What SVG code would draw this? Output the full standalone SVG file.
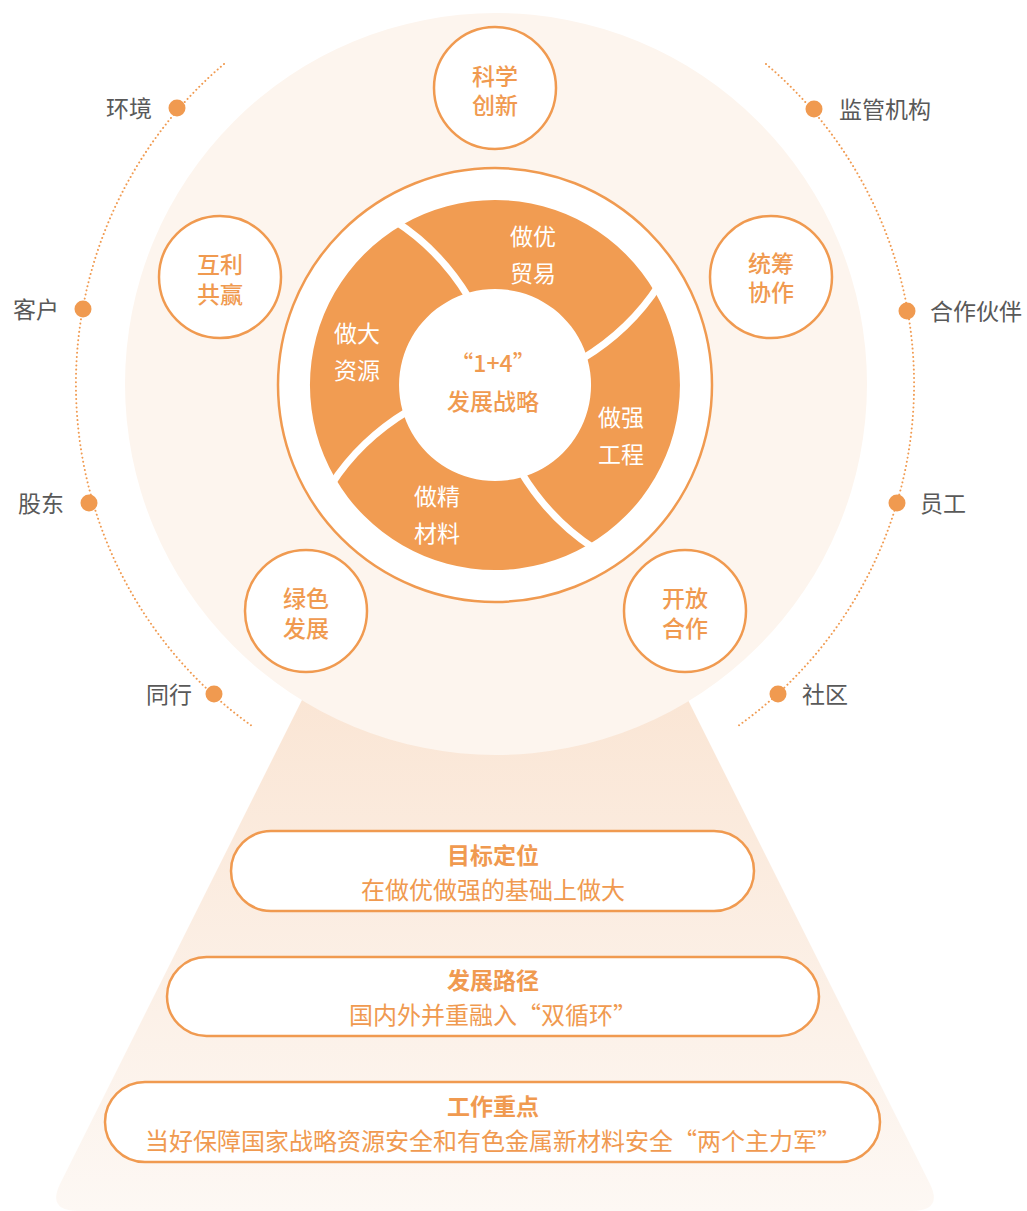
<svg xmlns="http://www.w3.org/2000/svg" width="1027" height="1211" viewBox="0 0 1027 1211">
<defs>
<linearGradient id="trap" x1="0" y1="0" x2="0" y2="1">
<stop offset="0" stop-color="#fae4d2"/>
<stop offset="1" stop-color="#fdf8f4"/>
</linearGradient>
<style>
text{font-family:"Noto Sans CJK SC","Noto Sans",sans-serif;dominant-baseline:central;text-anchor:middle}
.g{fill:#595959;font-size:23px}
.gl{text-anchor:end}
.gr{text-anchor:start}
.sc{fill:#ffffff;stroke:#f09a50;stroke-width:2.5}
.sct{fill:#f09a50;font-size:23px;font-weight:500}
.seg{fill:#ffffff;font-size:23px}
.pill{fill:#ffffff;stroke:#f09a50;stroke-width:2.5}
.pt{fill:#f09a50;font-size:23px;font-weight:700}
.ps{fill:#f09a50;font-size:24px}
.dot{fill:#f09a50}
.arc{fill:none;stroke:#f09a50;stroke-width:2;stroke-dasharray:0.01 4.2;stroke-linecap:round}
.div{fill:none;stroke:#ffffff;stroke-width:7}
</style>
</defs>
<rect width="1027" height="1211" fill="#ffffff"/>
<path id="trapezoid" d="M327 650 L663 650 L930 1184 Q943 1211 912 1211 L78 1211 Q47 1211 60 1184 Z" fill="url(#trap)"/>
<circle id="halo" cx="496" cy="384" r="371" fill="#fdf5ee"/>

<g id="connectors">
<path class="arc" d="M224 64 A420 420 0 0 0 252 726"/>
<path class="arc" d="M766 64 A420 420 0 0 1 738 726"/>
</g>

<g id="stakeholders">
<g id="n-huanjing"><circle class="dot" cx="177" cy="108" r="8.5"/><text class="g gl" x="152" y="107">环境</text></g>
<g id="n-kehu"><circle class="dot" cx="83" cy="309" r="8.5"/><text class="g gl" x="59" y="308">客户</text></g>
<g id="n-gudong"><circle class="dot" cx="89" cy="503" r="8.5"/><text class="g gl" x="64" y="502">股东</text></g>
<g id="n-tonghang"><circle class="dot" cx="214" cy="694" r="8.5"/><text class="g gl" x="192" y="693">同行</text></g>
<g id="n-jianguan"><circle class="dot" cx="814" cy="109" r="8.5"/><text class="g gr" x="839" y="108">监管机构</text></g>
<g id="n-hezuo"><circle class="dot" cx="907" cy="311" r="8.5"/><text class="g gr" x="930" y="310">合作伙伴</text></g>
<g id="n-yuangong"><circle class="dot" cx="897" cy="503" r="8.5"/><text class="g gr" x="920" y="502">员工</text></g>
<g id="n-shequ"><circle class="dot" cx="778" cy="694" r="8.5"/><text class="g gr" x="802" y="693">社区</text></g>
</g>

<g id="core">
<circle cx="495" cy="385" r="217" fill="#ffffff" stroke="#f09a50" stroke-width="2.5"/>
<path d="M495 200 A185 185 0 1 1 494.9 200 Z M495 289 A96 96 0 1 0 495.1 289 Z" fill="#f19c52" fill-rule="evenodd"/>
<path class="div" d="M469 298 Q440 250 395 221"/>
<path class="div" d="M582 359 Q630 330 659 285"/>
<path class="div" d="M521 472 Q550 520 595 549"/>
<path class="div" d="M408 411 Q360 440 331 485"/>
<circle cx="495" cy="385" r="95" fill="#ffffff"/>
<text class="sct" x="493" y="362">“1+4”<tspan x="493" dy="38">发展战略</tspan></text>
</g>

<g id="seg-maoyi"><text class="seg" x="533" y="235">做优<tspan x="533" dy="37">贸易</tspan></text></g>
<g id="seg-ziyuan"><text class="seg" x="357" y="332">做大<tspan x="357" dy="37">资源</tspan></text></g>
<g id="seg-gongcheng"><text class="seg" x="621" y="416">做强<tspan x="621" dy="37">工程</tspan></text></g>
<g id="seg-cailiao"><text class="seg" x="437" y="495">做精<tspan x="437" dy="37">材料</tspan></text></g>

<g id="c-kexue"><circle class="sc" cx="495" cy="88" r="61"/><text class="sct" x="495" y="75">科学<tspan x="495" dy="29">创新</tspan></text></g>
<g id="c-huli"><circle class="sc" cx="220" cy="277" r="61"/><text class="sct" x="220" y="263">互利<tspan x="220" dy="30">共赢</tspan></text></g>
<g id="c-tongchou"><circle class="sc" cx="771" cy="277" r="61"/><text class="sct" x="771" y="262">统筹<tspan x="771" dy="29">协作</tspan></text></g>
<g id="c-lvse"><circle class="sc" cx="306" cy="611" r="61"/><text class="sct" x="306" y="597">绿色<tspan x="306" dy="30">发展</tspan></text></g>
<g id="c-kaifang"><circle class="sc" cx="685" cy="611" r="61"/><text class="sct" x="685" y="597">开放<tspan x="685" dy="30">合作</tspan></text></g>

<g id="p-mubiao"><rect class="pill" x="231" y="831" width="523" height="80" rx="40"/><text class="pt" x="493" y="854">目标定位</text><text class="ps" x="493" y="888">在做优做强的基础上做大</text></g>
<g id="p-lujing"><rect class="pill" x="167" y="957" width="652" height="79" rx="39.5"/><text class="pt" x="493" y="979">发展路径</text><text class="ps" x="493" y="1013">国内外并重融入“双循环”</text></g>
<g id="p-zhongdian"><rect class="pill" x="105" y="1082" width="775" height="80" rx="40"/><text class="pt" x="493" y="1105">工作重点</text><text class="ps" x="493" y="1139">当好保障国家战略资源安全和有色金属新材料安全“两个主力军”</text></g>
</svg>
